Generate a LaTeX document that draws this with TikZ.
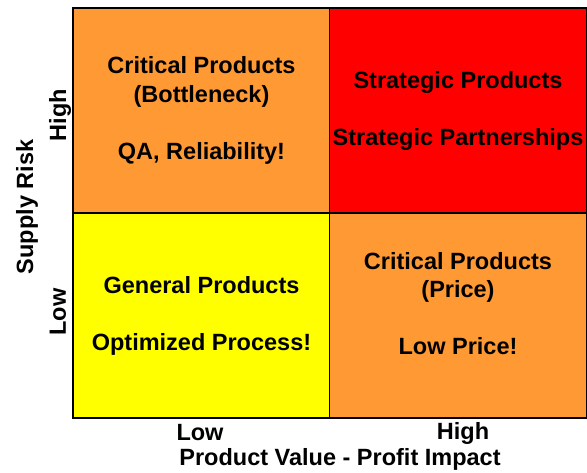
\documentclass[tikz,border=0pt]{standalone}
\usepackage{fontspec}
\setmainfont{Liberation Sans}
\usepackage{tikz}
\definecolor{myorange}{RGB}{255,153,51}
\definecolor{myred}{RGB}{255,0,0}
\definecolor{myyellow}{RGB}{255,255,0}
\usetikzlibrary{positioning}
\tikzset{>=latex}

\begin{document}
\begin{tikzpicture}[x=1pt, y=-1pt, cell/.style = {draw, line width=1.5pt, minimum width=257pt, minimum height=205pt, inner sep=0pt, outer sep=0pt, align=center, font=\bfseries\fontsize{23.5}{28.5}\selectfont}, celltext/.style = {align=center, inner sep=0pt, font=\bfseries\fontsize{23.5}{28.5}\selectfont}, axislabel/.style = {font=\bfseries\fontsize{23.5}{27.5}\selectfont, inner sep=0pt}]
                    \useasboundingbox (0,0) rectangle (587,472);
                    % the four quadrants
                    \node[fill=myorange,cell] (crit) at (201.5,110.5) {Critical Products\\(Bottleneck)\\ \\QA, Reliability!};
                    \node[fill=myred,cell] (strat) at (458,110.5) {Strategic Products\\ \\Strategic Partnerships};
                    \node[fill=myyellow,cell] (gen) at (201.5,315.5) {General Products\\ \\Optimized Process!};
                    \node[fill=myorange,cell] (price) at (458,315.5) {};
                    \node[celltext] (pricetext) at ([yshift=12pt]price.center) {Critical Products\\(Price)\\ \\Low Price!};
                    % axis labels
                    \node[axislabel] (xlow) at (200,433) {Low};
                    \node[axislabel] (xhigh) at (463,433) {High};
                    \node[axislabel] (xaxis) at (340,459) {Product Value - Profit Impact};
                    \node[axislabel,rotate=90] (yhigh) at (60,115) {High};
                    \node[axislabel,rotate=90] (ylow) at (58,312) {Low};
                    \node[axislabel,rotate=90] (yaxis) at (27,207) {Supply Risk};
            \end{tikzpicture}
\end{document}
